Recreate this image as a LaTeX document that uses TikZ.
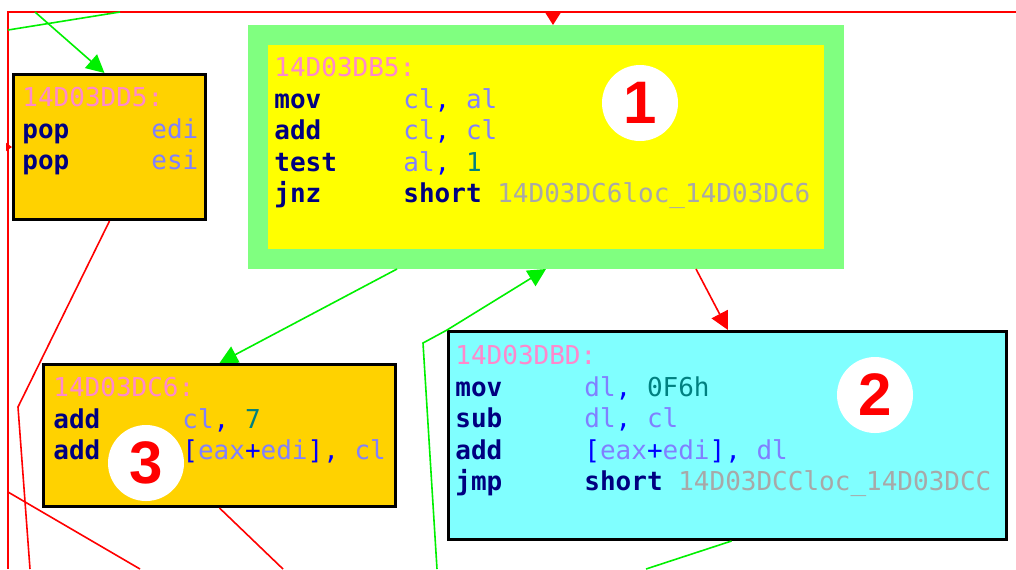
\documentclass[tikz,border=0pt]{standalone}
\usepackage{fontspec}
\setmonofont{DejaVu Sans Mono}
\newfontfamily\circfont{Liberation Sans}
\usetikzlibrary{arrows.meta,calc}

\definecolor{blkgold}{HTML}{FFD200}
\definecolor{blkyellow}{HTML}{FFFF00}
\definecolor{blkgreen}{HTML}{80FF80}
\definecolor{blkcyan}{HTML}{80FFFF}
\definecolor{opcode}{HTML}{000080}
\definecolor{regname}{HTML}{8080FF}
\definecolor{symb}{HTML}{0000FF}
\definecolor{immval}{HTML}{008080}
\definecolor{lblpink}{HTML}{FF88CC}
\definecolor{refgray}{HTML}{A8A8A8}
\definecolor{edgered}{HTML}{FF0000}
\definecolor{edgegreen}{HTML}{00F000}

\newcommand{\kw}[1]{\textcolor{opcode}{\bfseries #1}}
\newcommand{\opc}[1]{\makebox[64.5pt][l]{\kw{#1}}}
\newcommand{\regv}[1]{\textcolor{regname}{#1}}
\newcommand{\punc}[1]{\textcolor{symb}{#1}}
\newcommand{\immv}[1]{\textcolor{immval}{#1}}
\newcommand{\lbl}[1]{\textcolor{lblpink}{#1}}
\newcommand{\locref}[1]{\textcolor{refgray}{#1}}

\begin{document}
\begin{tikzpicture}[x=0.5pt,y=-0.5pt,>={Triangle[length=9pt,width=9pt]},
  block/.style={draw=black,line width=1.5pt,inner sep=0pt},
  code/.style={anchor=north west,inner sep=0pt,align=left,font=\ttfamily\fontsize{13}{15.75}\selectfont},
  badge/.style={circle,fill=white,inner sep=0pt,minimum size=38pt,text=edgered,font=\circfont\bfseries\fontsize{30}{30}\selectfont},
  redge/.style={draw=edgered,line width=0.8pt},
  gedge/.style={draw=edgegreen,line width=0.8pt}]
  \fill[white] (0,0) rectangle (1016,569);
  \useasboundingbox (0,0) rectangle (1016,569);

  % blocks
  \node [block,fill=blkgold,minimum width=96pt,minimum height=72.5pt] (b0) at (109.5,147) {};
  \node [block,draw=blkgreen,line width=10pt,fill=blkyellow,minimum width=288pt,minimum height=112pt] (b1) at (546,147) {};
  \node [block,fill=blkcyan,minimum width=279pt,minimum height=104pt] (b2) at (727.5,435.5) {};
  \node [block,fill=blkgold,minimum width=176pt,minimum height=71pt] (b3) at (219.5,435.5) {};

  % loose ends of the edges
  \coordinate (tr) at (1016,12);
  \coordinate (tl) at (8,12);
  \coordinate (bl) at (8,569);
  \coordinate (in0) at (8,147);
  \coordinate (in1) at (553,12);
  \coordinate (ga) at (8,30);
  \coordinate (gb) at (120,12);
  \coordinate (gc) at (35,12);
  \coordinate (gd) at (437,569);
  \coordinate (ge) at (423,343);
  \coordinate (gf) at (646,569);
  \coordinate (ra) at (18,407);
  \coordinate (rb) at (30,569);
  \coordinate (rc) at (8,492);
  \coordinate (rd) at (140,569);
  \coordinate (re) at (283,569);

  % red edges
  \draw[redge,line width=1pt] (tr) -- (tl) -- (bl);
  \draw[redge,-{Triangle[length=3pt,width=4pt]}] (in0) -- (b0.west);
  \draw[redge,-{Triangle[length=6.5pt,width=8pt]}] (in1) -- ($(b1.north west)+(305,0)$);
  \draw[redge,->] ($(b1.south west)+(448,0)$) -- ($(b2.north west)+(281,0)$);
  \draw[redge] (b0.south) -- (ra) -- (rb);
  \draw[redge] (rc) -- (rd);
  \draw[redge] (b3.south) -- (re);

  % green edges
  \draw[gedge] (ga) -- (gb);
  \draw[gedge,->] (gc) -- ($(b0.north)+(-5,0)$);
  \draw[gedge,->] ($(b1.south west)+(149,0)$) -- (b3.north);
  \draw[gedge,->] (gd) -- (ge) -- (b2.north west) -- (b1.south);
  \draw[gedge] ($(b2.south)+(4,0)$) -- (gf);

  % listings
  \node [code] (t0) at (22,87) {\lbl{14D03DD5:}\\
    \opc{pop}\regv{edi}\\
    \opc{pop}\regv{esi}};
  \node [code] (t1) at (274,57) {\lbl{14D03DB5:}\\
    \opc{mov}\regv{cl}\punc{,} \regv{al}\\
    \opc{add}\regv{cl}\punc{,} \regv{cl}\\
    \opc{test}\regv{al}\punc{,} \immv{1}\\
    \opc{jnz}\kw{short} \locref{14D03DC6loc\_14D03DC6}};
  \node [code] (t2) at (455,345) {\lbl{14D03DBD:}\\
    \opc{mov}\regv{dl}\punc{,} \immv{0F6h}\\
    \opc{sub}\regv{dl}\punc{,} \regv{cl}\\
    \opc{add}\punc{[}\regv{eax}\punc{+}\regv{edi}\punc{],} \regv{dl}\\
    \opc{jmp}\kw{short} \locref{14D03DCCloc\_14D03DCC}};
  \node [code] (t3) at (53,377) {\lbl{14D03DC6:}\\
    \opc{add}\regv{cl}\punc{,} \immv{7}\\
    \opc{add}\punc{[}\regv{eax}\punc{+}\regv{edi}\punc{],} \regv{cl}};

  % numbered markers
  \node [badge] (c1) at (640,103) {1};
  \node [badge] (c2) at (875,395) {2};
  \node [badge] (c3) at (146,463) {3};
\end{tikzpicture}
\end{document}
